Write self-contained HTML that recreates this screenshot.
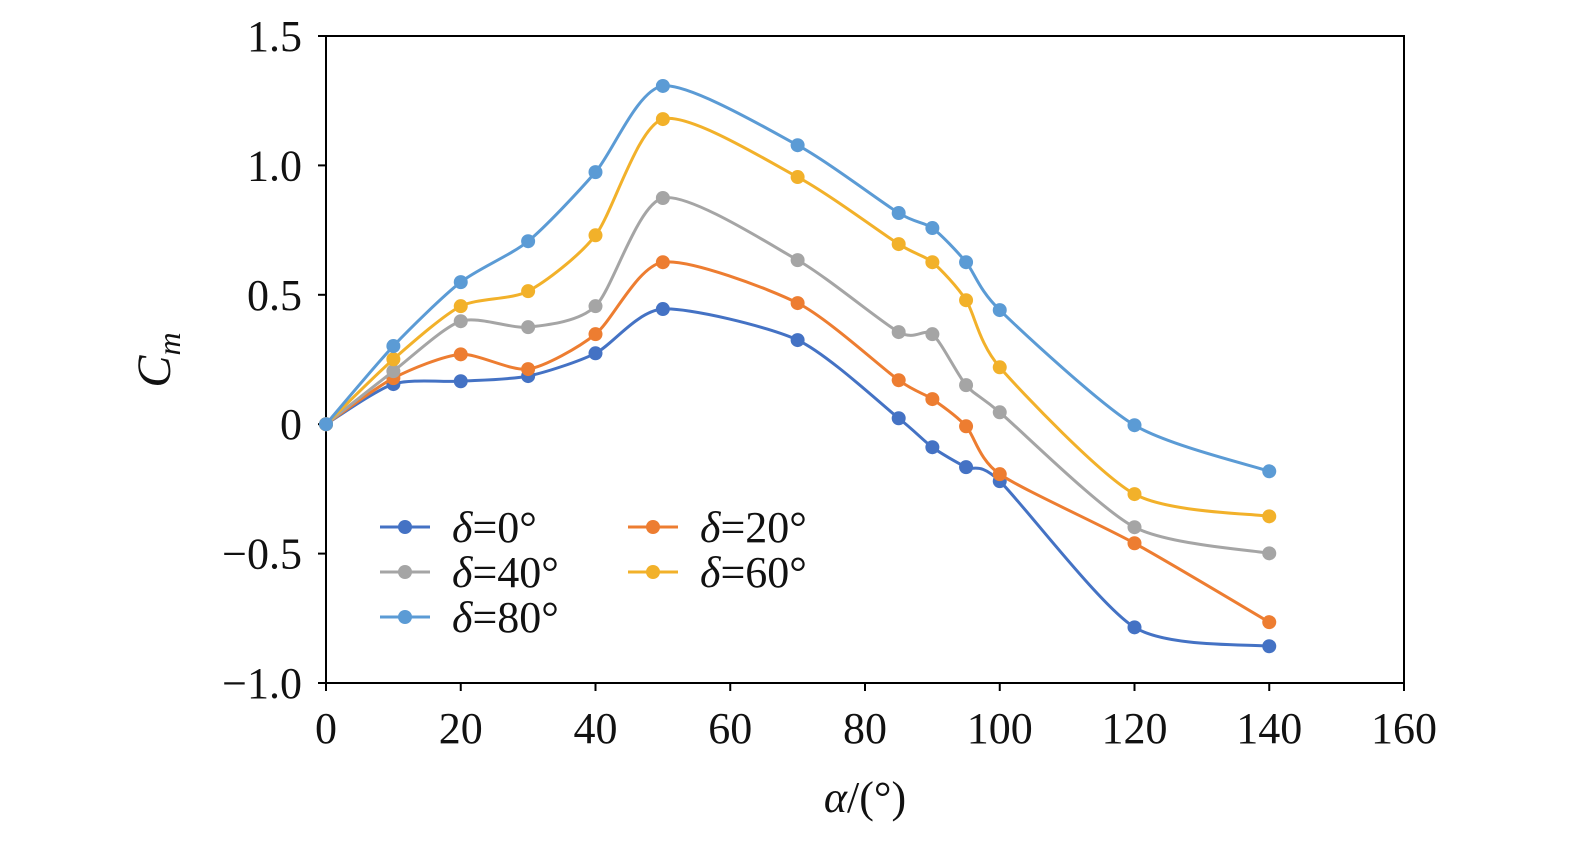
<!DOCTYPE html>
<html><head><meta charset="utf-8"><style>
html,body{margin:0;padding:0;background:#fff;}
svg text{font-family:"Liberation Serif",serif;fill:#111;}
</style></head><body>
<svg id="chart" width="1575" height="837" xmlns="http://www.w3.org/2000/svg"></svg>
<script>
const alphas=[0,10,20,30,40,50,70,85,90,95,100,120,140];
const cm0=[0,0.155,0.166,0.186,0.274,0.445,0.325,0.023,-0.089,-0.166,-0.22,-0.785,-0.858];
const cm20=[0,0.178,0.27,0.213,0.348,0.626,0.468,0.17,0.097,-0.008,-0.193,-0.46,-0.765];
const cm40=[0,0.205,0.398,0.375,0.456,0.874,0.634,0.356,0.348,0.151,0.046,-0.398,-0.499];
const cm60=[0,0.251,0.456,0.514,0.73,1.179,0.955,0.696,0.626,0.479,0.22,-0.27,-0.356];
const cm80=[0,0.302,0.549,0.707,0.974,1.307,1.078,0.816,0.758,0.626,0.441,-0.004,-0.182];
const xTicks=[0,20,40,60,80,100,120,140,160];
const yTicks=[1.5,1.0,0.5,0,-0.5,-1.0];
const yTickLabels=["1.5","1.0","0.5","0","\u22120.5","\u22121.0"];
const seriesNames=["\u03b4=0°","\u03b4=20°","\u03b4=40°","\u03b4=60°","\u03b4=80°"];

const NS="http://www.w3.org/2000/svg";
const svg=document.getElementById('chart');
const X0=326,X1=1404,Y0=683,Y1=36;
const xs=v=>X0+(v-0)/160*(X1-X0);
const ys=v=>Y0-(v+1)/2.5*(Y0-Y1);
function mk(t,a,p){const e=document.createElementNS(NS,t);for(const k in a)e.setAttribute(k,a[k]);(p||svg).appendChild(e);return e;}

const frame=mk('rect',{x:X0,y:Y1,width:X1-X0,height:Y0-Y1,fill:'none',stroke:'#000','stroke-width':2});


xTicks.forEach(v=>{
  const l=mk('line',{x1:xs(v),x2:xs(v),y1:Y0,y2:Y0+8,stroke:'#000','stroke-width':2});
  
  
  const t=mk('text',{x:xs(v),y:Y0+60,'text-anchor':'middle','font-size':44});
  t.textContent=v;
  
  
});
yTicks.forEach((v,i)=>{
  const l=mk('line',{x1:X0-8,x2:X0,y1:ys(v),y2:ys(v),stroke:'#000','stroke-width':2});
  
  
  const t=mk('text',{x:302,y:ys(v)+15,'text-anchor':'end','font-size':44});
  t.textContent=yTickLabels[i];
  
  
});
const xt=mk('text',{x:865,y:812,'text-anchor':'middle','font-size':44});
xt.innerHTML='<tspan font-style="italic">α</tspan>/(°)';


const yt=mk('text',{transform:'translate(170,360) rotate(-90)','text-anchor':'middle','font-size':48});
yt.innerHTML='<tspan font-style="italic">C</tspan><tspan font-style="italic" font-size="32" dy="10">m</tspan>';



function smooth(pts){
  let d=`M${pts[0][0]},${pts[0][1]}`;
  for(let i=0;i<pts.length-1;i++){
    const p0=pts[i-1]||pts[i],p1=pts[i],p2=pts[i+1],p3=pts[i+2]||p2;
    const t=1/8;
    const c1=[p1[0]+(p2[0]-p0[0])*t,p1[1]+(p2[1]-p0[1])*t];
    const c2=[p2[0]-(p3[0]-p1[0])*t,p2[1]-(p3[1]-p1[1])*t];
    d+=` C${c1[0]},${c1[1]} ${c2[0]},${c2[1]} ${p2[0]},${p2[1]}`;
  }
  return d;
}
const series=[cm0,cm20,cm40,cm60,cm80];
const colors=['#4472C4','#ED7D31','#A5A5A5','#F2B12A','#5B9BD5'];
const keys=['d0','d20','d40','d60','d80'];
series.forEach((s,si)=>{
  const g=mk('g',{});
  
  
  const pts=alphas.map((a,i)=>[xs(a),ys(s[i])]);
  const p=mk('path',{d:smooth(pts),fill:'none',stroke:colors[si],'stroke-width':3},g);
  
  
  pts.forEach(q=>{
    const c=mk('circle',{cx:q[0],cy:q[1],r:7,fill:colors[si]},g);
    
    
  });
});
const lg=mk('g',{});


const legPos=[[380,527],[628,527],[380,572],[628,572],[380,617]];
[0,1,2,3,4].forEach((si,i)=>{
  const [lx,ly]=legPos[i];
  const e=mk('g',{},lg);
  
  
  mk('line',{x1:lx,x2:lx+50,y1:ly,y2:ly,stroke:colors[si],'stroke-width':3},e);
  mk('circle',{cx:lx+25,cy:ly,r:7,fill:colors[si]},e);
  const t=mk('text',{x:lx+72,y:ly+15,'font-size':44},e);
  t.innerHTML='<tspan font-style="italic">δ</tspan>'+seriesNames[si].slice(1);
});
</script>
</body></html>
